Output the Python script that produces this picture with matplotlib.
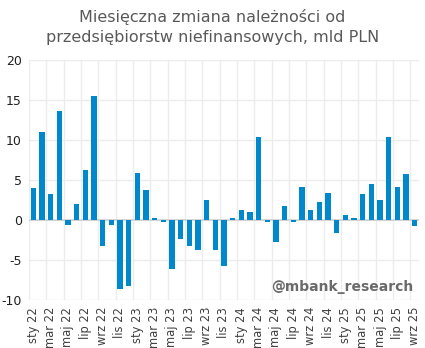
import numpy as np
import matplotlib
matplotlib.use("Agg")
import matplotlib.pyplot as plt
from matplotlib.ticker import MultipleLocator

plt.rcParams["axes.unicode_minus"] = False

# miesiace sty 22 .. wrz 25
months = ["sty", "lut", "mar", "kwi", "maj", "cze", "lip", "sie", "wrz", "paź", "lis", "gru"]
labels = [f"{m} {y}" for y in ["22", "23", "24", "25"] for m in months][:45]

values = [4.0, 11.0, 3.3, 13.6, -0.6, 2.0, 6.3, 15.5, -3.2, -0.6, -8.6, -8.25,
          5.9, 3.8, 0.3, -0.3, -6.1, -2.4, -3.2, -3.7, 2.5, -3.8, -5.8, 0.25,
          1.25, 1.0, 10.4, -0.25, -2.8, 1.75, -0.3, 4.1, 1.25, 2.25, 3.4, -1.6,
          0.6, 0.25, 3.25, 4.5, 2.5, 10.4, 4.1, 5.75, -0.7]

bar_color = "#0088cc"
text_gray = "#595959"

fig = plt.figure(figsize=(4.25, 3.48), dpi=100)
ax = fig.add_axes([0.068, 0.138, 0.918, 0.69])

x = np.arange(len(values))
ax.bar(x, values, width=0.6, color=bar_color, zorder=3)

ax.set_xlim(-0.5, len(values) - 0.5)
ax.set_ylim(-10, 20)
ax.yaxis.set_major_locator(MultipleLocator(5))

ax.set_xticks(x[::2])
ax.set_xticklabels(labels[::2], rotation=90, fontsize=8.3, color="#404040")
ax.set_xticks(np.arange(-0.5, len(values), 2), minor=True)
ax.tick_params(axis="x", which="major", length=0, pad=5)
ax.tick_params(axis="x", which="minor", length=0)
ax.tick_params(axis="y", length=0, labelsize=9, colors="#202020", pad=5)

ax.grid(axis="x", which="minor", color="#ececec", linewidth=1, zorder=0)
ax.grid(axis="y", which="major", color="#ececec", linewidth=1, zorder=0)
ax.axhline(0, color="#d0d0d0", linewidth=1.2, zorder=2)

for s in ax.spines.values():
    s.set_visible(False)

fig.text(0.5, 0.975, "Miesięczna zmiana należności od\nprzedsiębiorstw niefinansowych, mld PLN",
         ha="center", va="top", fontsize=11.5, color=text_gray, linespacing=1.45)

ax.text(0.985, 0.025, "@mbank_research", transform=ax.transAxes, ha="right", va="bottom",
        fontsize=10, fontweight="bold", color="#6a6a6a", zorder=5)

fig.savefig("out.png", dpi=100)
